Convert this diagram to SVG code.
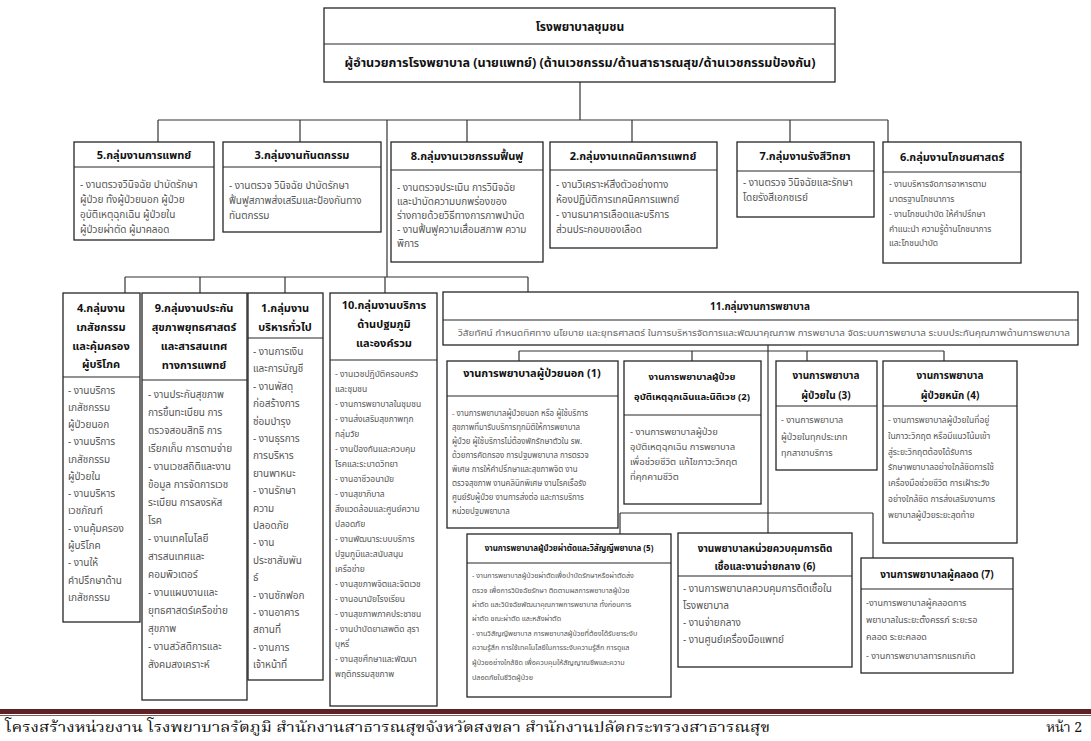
<svg xmlns="http://www.w3.org/2000/svg" width="1091" height="741" viewBox="0 0 1091 741">
<style>
text{font-family:"Noto Sans Thai","Tahoma","Noto Sans","DejaVu Sans",sans-serif}
.box{fill:#fff;stroke:#262626;stroke-width:1.3}
.dv{stroke:#262626;stroke-width:1.2}
.h{font-weight:bold;fill:#111;text-anchor:middle;font-size:11px}
.b{fill:#555;font-size:10px}
.s{fill:#555;font-size:8.5px}
.xs{fill:#555;font-size:7.5px}
.ft{font-family:"Noto Serif Thai","Noto Sans Thai","Liberation Serif",serif;font-size:14px;fill:#111}
.con line{stroke:#333;stroke-width:1.2}
</style>
<rect width="1091" height="741" fill="#fff"/>
<g class="con">
<line x1="580" y1="82" x2="580" y2="120"/>
<line x1="158" y1="120" x2="888" y2="120"/>
<line x1="158" y1="120" x2="158" y2="142"/>
<line x1="300" y1="120" x2="300" y2="142"/>
<line x1="467" y1="120" x2="467" y2="142"/>
<line x1="632" y1="120" x2="632" y2="142"/>
<line x1="790" y1="120" x2="790" y2="142"/>
<line x1="888" y1="120" x2="888" y2="142"/>
<line x1="387" y1="120" x2="387" y2="277"/>
<line x1="125" y1="277" x2="528" y2="277"/>
<line x1="125" y1="277" x2="125" y2="293"/>
<line x1="200" y1="277" x2="200" y2="293"/>
<line x1="285" y1="277" x2="285" y2="293"/>
<line x1="385" y1="277" x2="385" y2="293"/>
<line x1="528" y1="277" x2="528" y2="292"/>
<line x1="768" y1="345" x2="768" y2="533"/>
<line x1="519" y1="351" x2="944" y2="351"/>
<line x1="519" y1="351" x2="519" y2="361"/>
<line x1="692" y1="351" x2="692" y2="361"/>
<line x1="807" y1="351" x2="807" y2="361"/>
<line x1="944" y1="351" x2="944" y2="361"/>
<line x1="620" y1="513" x2="873" y2="513"/>
<line x1="620" y1="513" x2="620" y2="534"/>
<line x1="873" y1="513" x2="873" y2="558"/>
</g>
<g id="top">
<rect class="box" x="324" y="8" width="511" height="74"/>
<line class="dv" x1="324" y1="44" x2="835" y2="44"/>
<text class="h" x="580" y="31" style="font-size:12px">โรงพยาบาลชุมชน</text>
<text class="h" x="580" y="67" style="font-size:12.6px">ผู้อำนวยการโรงพยาบาล (นายแพทย์) (ด้านเวชกรรม/ด้านสาธารณสุข/ด้านเวชกรรมป้องกัน)</text>
</g>
<g id="g5">
<rect class="box" x="74" y="142" width="140" height="98"/>
<line class="dv" x1="74" y1="167" x2="214" y2="167"/>
<text class="h" x="144" y="159">5.กลุ่มงานการแพทย์</text>
<text class="b" x="80"><tspan x="80" y="188">- งานตรวจวินิจฉัย บำบัดรักษา</tspan><tspan x="80" y="203">ผู้ป่วย ทั้งผู้ป่วยนอก ผู้ป่วย</tspan><tspan x="80" y="218">อุบัติเหตุฉุกเฉิน ผู้ป่วยใน</tspan><tspan x="80" y="233">ผู้ป่วยผ่าตัด ผู้มาคลอด</tspan></text>
</g>
<g id="g3">
<rect class="box" x="223" y="142" width="158" height="90"/>
<line class="dv" x1="223" y1="167" x2="381" y2="167"/>
<text class="h" x="302" y="159">3.กลุ่มงานทันตกรรม</text>
<text class="b"><tspan x="229" y="189">- งานตรวจ วินิจฉัย บำบัดรักษา</tspan><tspan x="229" y="204">ฟื้นฟูสภาพส่งเสริมและป้องกันทาง</tspan><tspan x="229" y="219">ทันตกรรม</tspan></text>
</g>
<g id="g8">
<rect class="box" x="391" y="142" width="152" height="120"/>
<line class="dv" x1="391" y1="170" x2="543" y2="170"/>
<text class="h" x="467" y="160">8.กลุ่มงานเวชกรรมฟื้นฟู</text>
<text class="b"><tspan x="397" y="191">- งานตรวจประเมิน การวินิจฉัย</tspan><tspan x="397" y="205">และบำบัดความบกพร่องของ</tspan><tspan x="397" y="219">ร่างกายด้วยวิธีทางการภาพบำบัด</tspan><tspan x="397" y="233">- งานฟื้นฟูความเสื่อมสภาพ ความ</tspan><tspan x="397" y="247">พิการ</tspan></text>
</g>
<g id="g2">
<rect class="box" x="550" y="142" width="167" height="106"/>
<line class="dv" x1="550" y1="170" x2="717" y2="170"/>
<text class="h" x="633" y="160">2.กลุ่มงานเทคนิคการแพทย์</text>
<text class="b"><tspan x="556" y="188">- งานวิเคราะห์สิ่งตัวอย่างทาง</tspan><tspan x="556" y="203">ห้องปฏิบัติการเทคนิคการแพทย์</tspan><tspan x="556" y="218">- งานธนาคารเลือดและบริการ</tspan><tspan x="556" y="233">ส่วนประกอบของเลือด</tspan></text>
</g>
<g id="g7">
<rect class="box" x="737" y="142" width="137" height="75"/>
<line class="dv" x1="737" y1="171" x2="874" y2="171"/>
<text class="h" x="805" y="160">7.กลุ่มงานรังสีวิทยา</text>
<text class="b"><tspan x="743" y="186">- งานตรวจ วินิจฉัยและรักษา</tspan><tspan x="743" y="201">โดยรังสีเอกซเรย์</tspan></text>
</g>
<g id="g6">
<rect class="box" x="883" y="142" width="138" height="121"/>
<line class="dv" x1="883" y1="172" x2="1021" y2="172"/>
<text class="h" x="952" y="161">6.กลุ่มงานโภชนศาสตร์</text>
<text class="s"><tspan x="889" y="187">- งานบริหารจัดการอาหารตาม</tspan><tspan x="889" y="202">มาตรฐานโภชนาการ</tspan><tspan x="889" y="217">- งานโภชนบำบัด ให้คำปรึกษา</tspan><tspan x="889" y="232">คำแนะนำ ความรู้ด้านโภชนาการ</tspan><tspan x="889" y="246">และโภชนบำบัด</tspan></text>
</g>
<g id="g4">
<rect class="box" x="63" y="293" width="77" height="329"/>
<line class="dv" x1="63" y1="377" x2="140" y2="377"/>
<text class="h"><tspan x="101" y="312">4.กลุ่มงาน</tspan><tspan x="101" y="331">เภสัชกรรม</tspan><tspan x="101" y="350">และคุ้มครอง</tspan><tspan x="101" y="368">ผู้บริโภค</tspan></text>
<text class="b"><tspan x="68" y="394">- งานบริการ</tspan><tspan x="68" y="411">เภสัชกรรม</tspan><tspan x="68" y="428">ผู้ป่วยนอก</tspan><tspan x="68" y="445">- งานบริการ</tspan><tspan x="68" y="463">เภสัชกรรม</tspan><tspan x="68" y="480">ผู้ป่วยใน</tspan><tspan x="68" y="497">- งานบริหาร</tspan><tspan x="68" y="514">เวชภัณฑ์</tspan><tspan x="68" y="532">- งานคุ้มครอง</tspan><tspan x="68" y="549">ผู้บริโภค</tspan><tspan x="68" y="566">- งานให้</tspan><tspan x="68" y="584">คำปรึกษาด้าน</tspan><tspan x="68" y="601">เภสัชกรรม</tspan></text>
</g>
<g id="g9">
<rect class="box" x="142" y="293" width="105" height="407"/>
<line class="dv" x1="142" y1="380" x2="247" y2="380"/>
<text class="h"><tspan x="194" y="312">9.กลุ่มงานประกัน</tspan><tspan x="194" y="331">สุขภาพยุทธศาสตร์</tspan><tspan x="194" y="350">และสารสนเทศ</tspan><tspan x="194" y="369">ทางการแพทย์</tspan></text>
<text class="b"><tspan x="148" y="398">- งานประกันสุขภาพ</tspan><tspan x="148" y="416">การขึ้นทะเบียน การ</tspan><tspan x="148" y="434">ตรวจสอบสิทธิ การ</tspan><tspan x="148" y="452">เรียกเก็บ การตามจ่าย</tspan><tspan x="148" y="470">- งานเวชสถิติและงาน</tspan><tspan x="148" y="488">ข้อมูล การจัดการเวช</tspan><tspan x="148" y="506">ระเบียน การลงรหัส</tspan><tspan x="148" y="524">โรค</tspan><tspan x="148" y="542">- งานเทคโนโลยี</tspan><tspan x="148" y="560">สารสนเทศและ</tspan><tspan x="148" y="578">คอมพิวเตอร์</tspan><tspan x="148" y="596">- งานแผนงานและ</tspan><tspan x="148" y="614">ยุทธศาสตร์เครือข่าย</tspan><tspan x="148" y="632">สุขภาพ</tspan><tspan x="148" y="650">- งานสวัสดิการและ</tspan><tspan x="148" y="668">สังคมสงเคราะห์</tspan></text>
</g>
<g id="g1">
<rect class="box" x="248" y="293" width="75" height="387"/>
<line class="dv" x1="248" y1="338" x2="323" y2="338"/>
<text class="h"><tspan x="285" y="312">1.กลุ่มงาน</tspan><tspan x="285" y="331">บริหารทั่วไป</tspan></text>
<text class="b"><tspan x="253" y="355">- งานการเงิน</tspan><tspan x="253" y="372">และการบัญชี</tspan><tspan x="253" y="390">- งานพัสดุ</tspan><tspan x="253" y="407">ก่อสร้างการ</tspan><tspan x="253" y="425">ซ่อมบำรุง</tspan><tspan x="253" y="442">- งานธุรการ</tspan><tspan x="253" y="459">การบริหาร</tspan><tspan x="253" y="477">ยานพาหนะ</tspan><tspan x="253" y="494">- งานรักษา</tspan><tspan x="253" y="512">ความ</tspan><tspan x="253" y="529">ปลอดภัย</tspan><tspan x="253" y="546">- งาน</tspan><tspan x="253" y="564">ประชาสัมพัน</tspan><tspan x="253" y="581">ธ์</tspan><tspan x="253" y="599">- งานซักฟอก</tspan><tspan x="253" y="616">- งานอาคาร</tspan><tspan x="253" y="633">สถานที่</tspan><tspan x="253" y="651">- งานการ</tspan><tspan x="253" y="668">เจ้าหน้าที่</tspan></text>
</g>
<g id="g10">
<rect class="box" x="330" y="293" width="107" height="413"/>
<line class="dv" x1="330" y1="360" x2="437" y2="360"/>
<text class="h"><tspan x="384" y="309">10.กลุ่มงานบริการ</tspan><tspan x="384" y="328">ด้านปฐมภูมิ</tspan><tspan x="384" y="347">และองค์รวม</tspan></text>
<text class="s"><tspan x="335" y="377">- งานเวชปฏิบัติครอบครัว</tspan><tspan x="335" y="392">และชุมชน</tspan><tspan x="335" y="407">- งานการพยาบาลในชุมชน</tspan><tspan x="335" y="422">- งานส่งเสริมสุขภาพทุก</tspan><tspan x="335" y="437">กลุ่มวัย</tspan><tspan x="335" y="452">- งานป้องกันและควบคุม</tspan><tspan x="335" y="467">โรคและระบาดวิทยา</tspan><tspan x="335" y="482">- งานอาชีวอนามัย</tspan><tspan x="335" y="497">- งานสุขาภิบาล</tspan><tspan x="335" y="512">สิ่งแวดล้อมและศูนย์ความ</tspan><tspan x="335" y="527">ปลอดภัย</tspan><tspan x="335" y="542">- งานพัฒนาระบบบริการ</tspan><tspan x="335" y="557">ปฐมภูมิและสนับสนุน</tspan><tspan x="335" y="572">เครือข่าย</tspan><tspan x="335" y="587">- งานสุขภาพจิตและจิตเวช</tspan><tspan x="335" y="602">- งานอนามัยโรงเรียน</tspan><tspan x="335" y="617">- งานสุขภาพภาคประชาชน</tspan><tspan x="335" y="632">- งานบำบัดยาเสพติด สุรา</tspan><tspan x="335" y="647">บุหรี่</tspan><tspan x="335" y="662">- งานสุขศึกษาและพัฒนา</tspan><tspan x="335" y="677">พฤติกรรมสุขภาพ</tspan></text>
</g>
<g id="g11">
<rect class="box" x="443" y="292" width="635" height="53"/>
<line class="dv" x1="443" y1="320" x2="1078" y2="320"/>
<text class="h" x="760" y="310" style="font-size:10px">11.กลุ่มงานการพยาบาล</text>
<text class="xs" x="458" y="336" textLength="612" lengthAdjust="spacingAndGlyphs" style="font-size:8.6px;fill:#666">วิสัยทัศน์ กำหนดทิศทาง นโยบาย และยุทธศาสตร์ ในการบริหารจัดการและพัฒนาคุณภาพ การพยาบาล จัดระบบการพยาบาล ระบบประกันคุณภาพด้านการพยาบาล</text>
</g>
<g id="n1">
<rect class="box" x="447" y="361" width="171" height="167"/>
<line class="dv" x1="447" y1="396" x2="618" y2="396"/>
<text class="h" x="532" y="377">งานการพยาบาลผู้ป่วยนอก (1)</text>
<text class="xs" style="font-size:7.9px"><tspan x="452" y="416">- งานการพยาบาลผู้ป่วยนอก หรือ ผู้ใช้บริการ</tspan><tspan x="452" y="430">สุขภาพที่มารับบริการทุกมิติให้การพยาบาล</tspan><tspan x="452" y="444">ผู้ป่วย ผู้ใช้บริการไม่ต้องพักรักษาตัวใน รพ.</tspan><tspan x="452" y="458">ด้วยการคัดกรอง การปฐมพยาบาล การตรวจ</tspan><tspan x="452" y="472">พิเศษ การให้คำปรึกษาและสุขภาพจิต งาน</tspan><tspan x="452" y="486">ตรวจสุขภาพ งานคลินิกพิเศษ งานโรคเรื้อรัง</tspan><tspan x="452" y="500">ศูนย์รับผู้ป่วย งานการส่งต่อ และการบริการ</tspan><tspan x="452" y="514">หน่วยปฐมพยาบาล</tspan></text>
</g>
<g id="n2">
<rect class="box" x="624" y="361" width="137" height="143"/>
<line class="dv" x1="624" y1="415" x2="761" y2="415"/>
<text class="h" style="font-size:9.5px"><tspan x="692" y="380">งานการพยาบาลผู้ป่วย</tspan><tspan x="692" y="400">อุบัติเหตุฉุกเฉินและนิติเวช (2)</tspan></text>
<text class="s" style="font-size:9.5px"><tspan x="630" y="435">- งานการพยาบาลผู้ป่วย</tspan><tspan x="630" y="450">อุบัติเหตุฉุกเฉิน การพยาบาล</tspan><tspan x="630" y="465">เพื่อช่วยชีวิต แก้ไขภาวะวิกฤต</tspan><tspan x="630" y="480">ที่คุกคามชีวิต</tspan></text>
</g>
<g id="n3">
<rect class="box" x="776" y="361" width="101" height="109"/>
<line class="dv" x1="776" y1="406" x2="877" y2="406"/>
<text class="h" style="font-size:10px"><tspan x="826" y="379">งานการพยาบาล</tspan><tspan x="826" y="399">ผู้ป่วยใน (3)</tspan></text>
<text class="s" style="font-size:9px"><tspan x="781" y="423">- งานการพยาบาล</tspan><tspan x="781" y="440">ผู้ป่วยในทุกประเภท</tspan><tspan x="781" y="456">ทุกสาขาบริการ</tspan></text>
</g>
<g id="n4">
<rect class="box" x="883" y="361" width="134" height="182"/>
<line class="dv" x1="883" y1="406" x2="1017" y2="406"/>
<text class="h" style="font-size:10px"><tspan x="950" y="379">งานการพยาบาล</tspan><tspan x="950" y="399">ผู้ป่วยหนัก (4)</tspan></text>
<text class="s"><tspan x="888" y="423">- งานการพยาบาลผู้ป่วยในที่อยู่</tspan><tspan x="888" y="439">ในภาวะวิกฤต หรือมีแนวโน้มเข้า</tspan><tspan x="888" y="455">สู่ระยะวิกฤตต้องได้รับการ</tspan><tspan x="888" y="470">รักษาพยาบาลอย่างใกล้ชิดการใช้</tspan><tspan x="888" y="486">เครื่องมือช่วยชีวิต การเฝ้าระวัง</tspan><tspan x="888" y="502">อย่างใกล้ชิด การส่งเสริมงานการ</tspan><tspan x="888" y="518">พยาบาลผู้ป่วยระยะสุดท้าย</tspan></text>
</g>
<g id="n5">
<rect class="box" x="467" y="534" width="204" height="163"/>
<line class="dv" x1="467" y1="563" x2="671" y2="563"/>
<text class="h" x="569" y="551" style="font-size:8px">งานการพยาบาลผู้ป่วยผ่าตัดและวิสัญญีพยาบาล (5)</text>
<text class="xs" style="font-size:7.2px"><tspan x="472" y="578">- งานการพยาบาลผู้ป่วยผ่าตัดเพื่อบำบัดรักษาหรือผ่าตัดส่ง</tspan><tspan x="472" y="593">ตรวจ เพื่อการวินิจฉัยรักษา ติดตามผลการพยาบาลผู้ป่วย</tspan><tspan x="472" y="607">ผ่าตัด และวินิจฉัยพัฒนาคุณภาพการพยาบาล ทั้งก่อนการ</tspan><tspan x="472" y="621">ผ่าตัด ขณะผ่าตัด และหลังผ่าตัด</tspan><tspan x="472" y="636">- งานวิสัญญีพยาบาล การพยาบาลผู้ป่วยที่ต้องได้รับยาระงับ</tspan><tspan x="472" y="650">ความรู้สึก การใช้เทคโนโลยีในการระงับความรู้สึก การดูแล</tspan><tspan x="472" y="665">ผู้ป่วยอย่างใกล้ชิด เพื่อควบคุมให้สัญญาณชีพและความ</tspan><tspan x="472" y="680">ปลอดภัยในชีวิตผู้ป่วย</tspan></text>
</g>
<g id="n6">
<rect class="box" x="678" y="533" width="174" height="134"/>
<line class="dv" x1="678" y1="576" x2="852" y2="576"/>
<text class="h" style="font-size:10px"><tspan x="765" y="552">งานพยาบาลหน่วยควบคุมการติด</tspan><tspan x="765" y="570">เชื้อและงานจ่ายกลาง (6)</tspan></text>
<text class="s" style="font-size:10px"><tspan x="683" y="592">- งานการพยาบาลควบคุมการติดเชื้อใน</tspan><tspan x="683" y="609">โรงพยาบาล</tspan><tspan x="683" y="626">- งานจ่ายกลาง</tspan><tspan x="683" y="643">- งานศูนย์เครื่องมือแพทย์</tspan></text>
</g>
<g id="n7">
<rect class="box" x="861" y="558" width="152" height="115"/>
<line class="dv" x1="861" y1="589" x2="1013" y2="589"/>
<text class="h" x="937" y="578" style="font-size:10px">งานการพยาบาลผู้คลอด (7)</text>
<text class="s" style="font-size:9px"><tspan x="866" y="606">-งานการพยาบาลผู้คลอดการ</tspan><tspan x="866" y="623">พยาบาลในระยะตั้งครรภ์ ระยะรอ</tspan><tspan x="866" y="640">คลอด ระยะคลอด</tspan><tspan x="866" y="659">- งานการพยาบาลทารกแรกเกิด</tspan></text>
</g>
<g id="footer">
<rect x="0" y="709" width="1091" height="5" fill="#5e2226"/>
<line x1="0" y1="715.5" x2="1091" y2="715.5" stroke="#8a5a5c" stroke-width="1"/>
<text class="ft" x="5" y="732" textLength="765" lengthAdjust="spacingAndGlyphs">โครงสร้างหน่วยงาน โรงพยาบาลรัตภูมิ สำนักงานสาธารณสุขจังหวัดสงขลา สำนักงานปลัดกระทรวงสาธารณสุข</text>
<text class="ft" x="1082" y="732" text-anchor="end">หน้า 2</text>
</g>
</svg>
